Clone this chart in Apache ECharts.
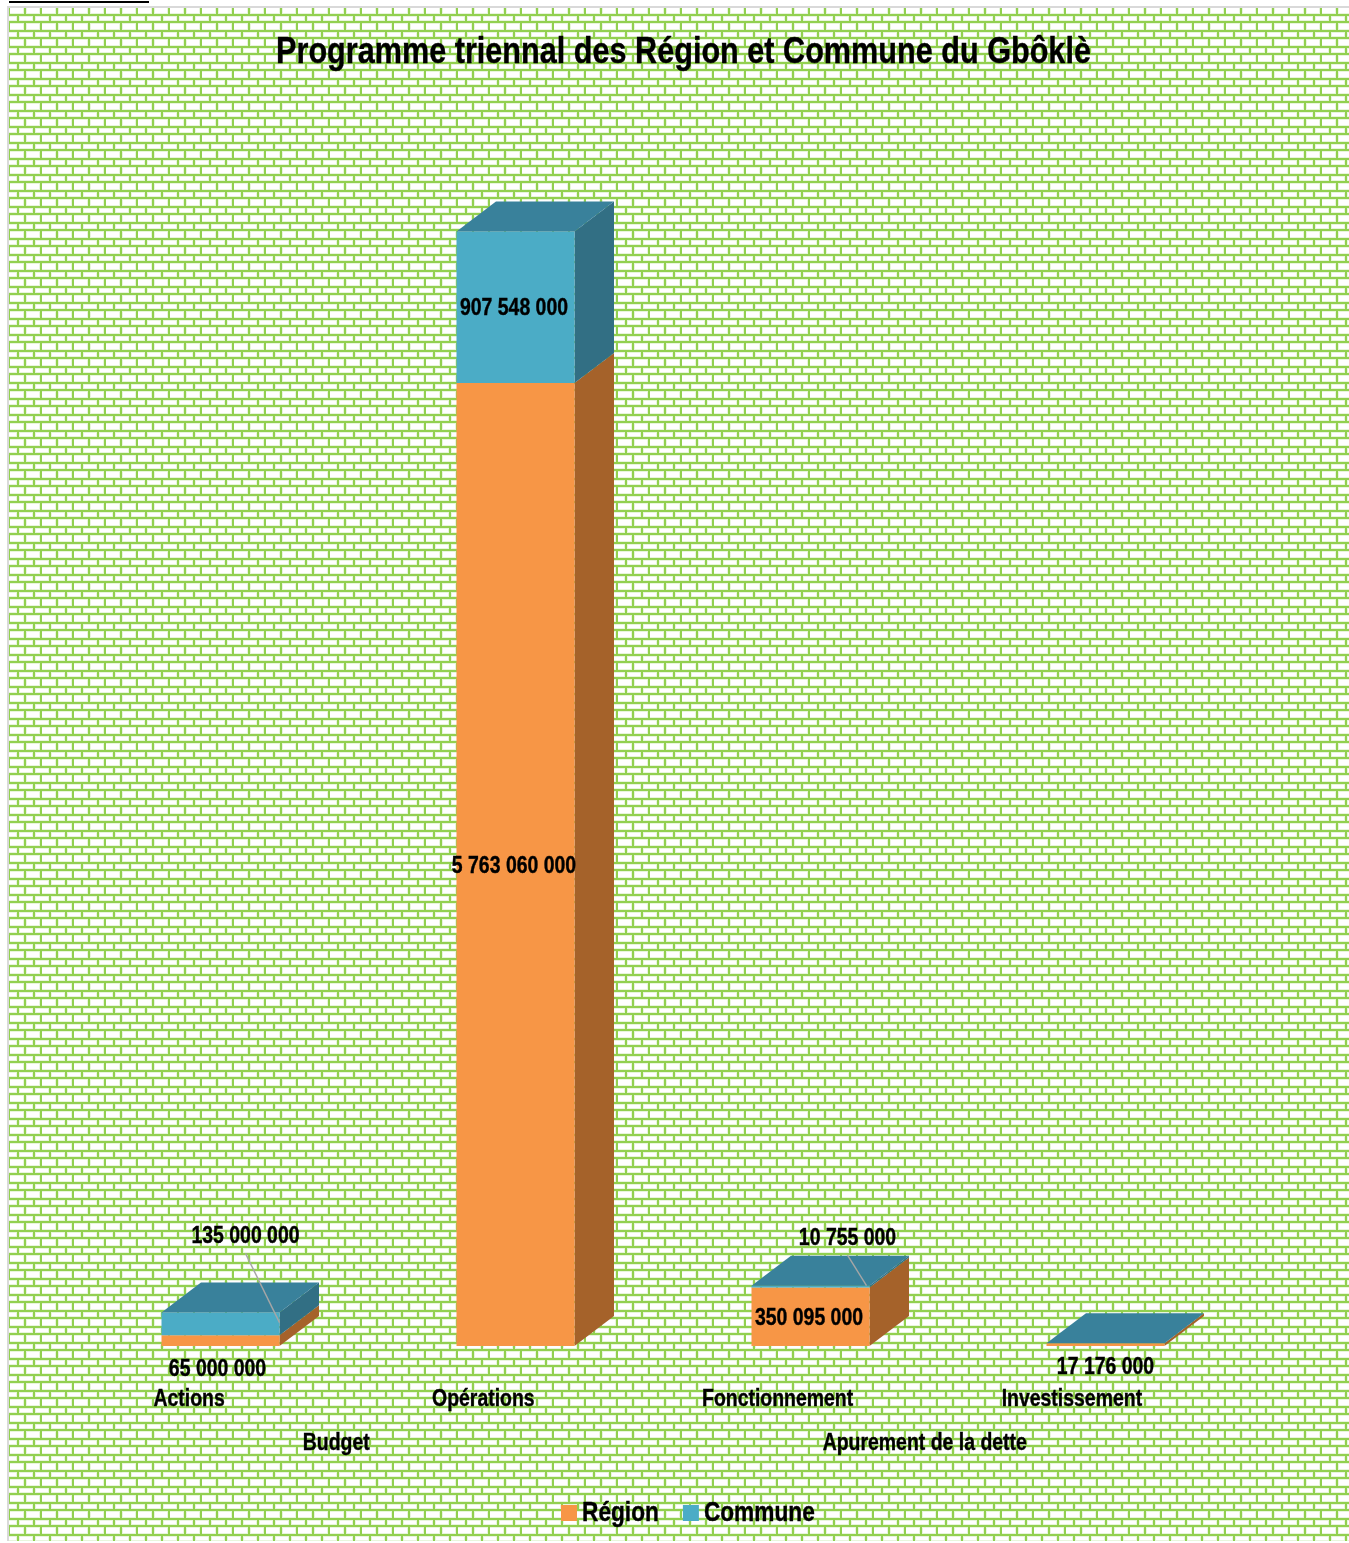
<!DOCTYPE html>
<html lang="fr">
<head>
<meta charset="utf-8">
<title>Programme triennal</title>
<script src="https://cdn.jsdelivr.net/npm/echarts@6/dist/echarts.min.js"></script>
<style>
  html, body { margin: 0; padding: 0; background: #fff; overflow: hidden; }
  #chart { position: absolute; left: 7px; top: 6px; width: 1342px; height: 1535px; box-sizing: border-box; border-top: 2px solid #d9d9d9; border-left: 2px solid #d9d9d9; }
  #rule { position: absolute; left: 9px; top: 1px; width: 140px; height: 2px; background: #000; }
</style>
</head>
<body>
<div id="rule"></div>
<div id="chart"></div>
<script>
const FONT = '"Liberation Sans", Arial, sans-serif';
const titleText = 'Programme triennal des Région et Commune du Gbôklè';
const categories = ['Actions', 'Opérations', 'Fonctionnement', 'Investissement'];
const groups = ['Budget', 'Apurement de la dette'];
const seriesNames = ['Région', 'Commune'];
const regionValues = [65000000, 5763060000, 350095000, 17176000];
const communeValues = [135000000, 907548000, 10755000, 0];
const valueMax = 7000000000;

const COLORS = {
  region: { front: '#F79646', side: '#A5622A', top: '#B8682C' },
  commune: { front: '#4BACC6', side: '#326F84', top: '#39819B' }
};
const DEPTH = [39.5, -30];
const TEXT_CONDENSE = 0.81;

// Space-separated thousands, as printed on the data labels
function fmt(v) { return String(v).replace(/\B(?=(\d{3})+$)/g, ' '); }

// Brick tile repeated behind the whole chart: a tall course, then a short one
function brickTile() {
  const c = document.createElement('canvas');
  c.width = 32; c.height = 16;
  const g = c.getContext('2d');
  g.fillStyle = '#ffffff'; g.fillRect(0, 0, 32, 16);
  const pale = '#E8F5DC', green = '#92D050';
  const hRows = [6, 13];
  const tallX = [15, 31], shortX = [8, 24];
  g.fillStyle = pale;
  hRows.forEach(y => g.fillRect(0, y - 1, 32, 4));
  tallX.forEach(x => { g.fillRect(x - 1, 14, 4, 2); g.fillRect((x - 1) % 32, 0, 4, 6); g.fillRect(0, 0, 1, 6); });
  shortX.forEach(x => g.fillRect(x - 1, 7, 4, 6));
  g.fillStyle = green;
  hRows.forEach(y => g.fillRect(0, y, 32, 2));
  tallX.forEach(x => { g.fillRect(x, 14, 2, 2); g.fillRect(x, 0, 2, 6); });
  g.fillRect(0, 14, 1, 2); g.fillRect(0, 0, 1, 6);
  shortX.forEach(x => g.fillRect(x, 7, 2, 6));
  return c;
}

// Labels moved off their block: offset from the block's centre or its foot
const labelPlacement = {
  0: { 0: { dx: -1.5, dy: 23.5, fromBottom: true }, 3: { dx: 1.5, dy: 21, fromBottom: true } },
  1: { 0: { dx: 26.5, dy: -87.5, leader: true, leaderDrop: 10 }, 2: { dx: 38.5, dy: -48.5, leader: true, leaderDrop: 0, leaderInset: 3 } }
};

function boxRenderer(seriesIndex, colors) {
  return function (params, api) {
    const i = api.value(0);
    const base = api.value(1), val = api.value(2);
    const pBase = api.coord([i, base]);
    const pTop = api.coord([i, base + val]);
    const w = api.size([1, 0])[0] * 0.4;
    const x0 = pBase[0] - w / 2, x1 = pBase[0] + w / 2;
    const yb = pBase[1], yt = pTop[1];
    const [dx, dy] = DEPTH;
    const children = [];
    const poly = (pts, fill) => children.push({ type: 'polygon', shape: { points: pts }, style: { fill } });
    // Right side and front face; only the stack's upper block gets a top face
    poly([[x1, yb], [x1 + dx, yb + dy], [x1 + dx, yt + dy], [x1, yt]], colors.side);
    poly([[x0, yb], [x1, yb], [x1, yt], [x0, yt]], colors.front);
    if (seriesIndex === 1) {
      poly([[x0, yt], [x1, yt], [x1 + dx, yt + dy], [x0 + dx, yt + dy]], colors.top);
    }
    if (val > 0) {
      const place = (labelPlacement[seriesIndex] || {})[i];
      const cx = (x0 + x1) / 2 - 1.5;
      let ly = (yb + yt) / 2 + 1.5, lx = cx;
      if (place) {
        lx = cx + place.dx;
        ly = place.fromBottom ? yb + place.dy : (yb + yt) / 2 + place.dy;
        if (place.leader) {
          children.push({
            type: 'line',
            shape: { x1: lx, y1: ly + 17, x2: x1 - (place.leaderInset || 0), y2: yt + place.leaderDrop },
            style: { stroke: '#a6a6a6', lineWidth: 1.4 }
          });
        }
      }
      children.push({
        type: 'text', z2: 10,
        style: { x: lx, y: ly, text: fmt(val), fill: '#000', font: 'bold 24px ' + FONT, align: 'center', verticalAlign: 'middle' }
      });
    }
    return { type: 'group', children };
  };
}

function seriesData(values, bases) {
  return values.map((v, i) => [i, bases ? bases[i] : 0, v]);
}

const chart = echarts.init(document.getElementById('chart'), null, { renderer: 'canvas' });
const gridHeight = valueMax / 5985000;
const BOTTOM = 1346 - 8;
chart.setOption({
  animation: false,
  backgroundColor: { image: brickTile(), repeat: 'repeat' },
  title: {
    text: titleText, left: 669.5, top: 21, textAlign: 'center',
    textStyle: { fontFamily: FONT, fontWeight: 'bold', fontSize: 37.8, color: '#000' }
  },
  legend: {
    left: 552, top: 1491, padding: 0, icon: 'rect', itemWidth: 16, itemHeight: 16, itemGap: 6,
    data: seriesNames,
    textStyle: { fontFamily: FONT, fontWeight: 'bold', fontSize: 28, color: '#000' }
  },
  grid: [
    { left: 64, width: 1180, top: BOTTOM - gridHeight, height: gridHeight },
    { left: 33, width: 1177, top: BOTTOM - gridHeight, height: gridHeight }
  ],
  xAxis: [
    { type: 'category', gridIndex: 0, data: categories, axisLine: { show: false }, axisTick: { show: false }, axisLabel: { show: false } },
    { type: 'category', gridIndex: 1, data: categories, position: 'bottom', axisLine: { show: false }, axisTick: { show: false },
      axisLabel: { interval: 0, margin: 41, fontFamily: FONT, fontWeight: 'bold', fontSize: 24, color: '#000' } },
    { type: 'category', gridIndex: 1, data: groups, position: 'bottom', axisLine: { show: false }, axisTick: { show: false },
      axisLabel: { interval: 0, margin: 85, fontFamily: FONT, fontWeight: 'bold', fontSize: 24, color: '#000' } }
  ],
  yAxis: [
    { type: 'value', gridIndex: 0, min: 0, max: valueMax, show: false },
    { type: 'value', gridIndex: 1, min: 0, max: valueMax, show: false }
  ],
  series: [
    {
      name: seriesNames[0], type: 'custom', xAxisIndex: 0, yAxisIndex: 0,
      itemStyle: { color: COLORS.region.front },
      renderItem: boxRenderer(0, COLORS.region), data: seriesData(regionValues), encode: { x: 0, y: 2 }, clip: false
    },
    {
      name: seriesNames[1], type: 'custom', xAxisIndex: 0, yAxisIndex: 0,
      itemStyle: { color: COLORS.commune.front },
      renderItem: boxRenderer(1, COLORS.commune), data: seriesData(communeValues, regionValues), encode: { x: 0, y: 2 }, clip: false
    }
  ]
});

// No narrow bold face is installed, so every text run is squeezed horizontally around its anchor
const zr = chart.getZr();
zr.storage.getDisplayList(true).forEach(el => {
  if (el.type === 'tspan') {
    el.scaleX = TEXT_CONDENSE;
    el.originX = el.style.x || 0;
    el.style.stroke = '#000';
    el.style.lineWidth = 0.4;
    el.markRedraw();
  }
});
zr.refreshImmediately();
</script>
</body>
</html>
